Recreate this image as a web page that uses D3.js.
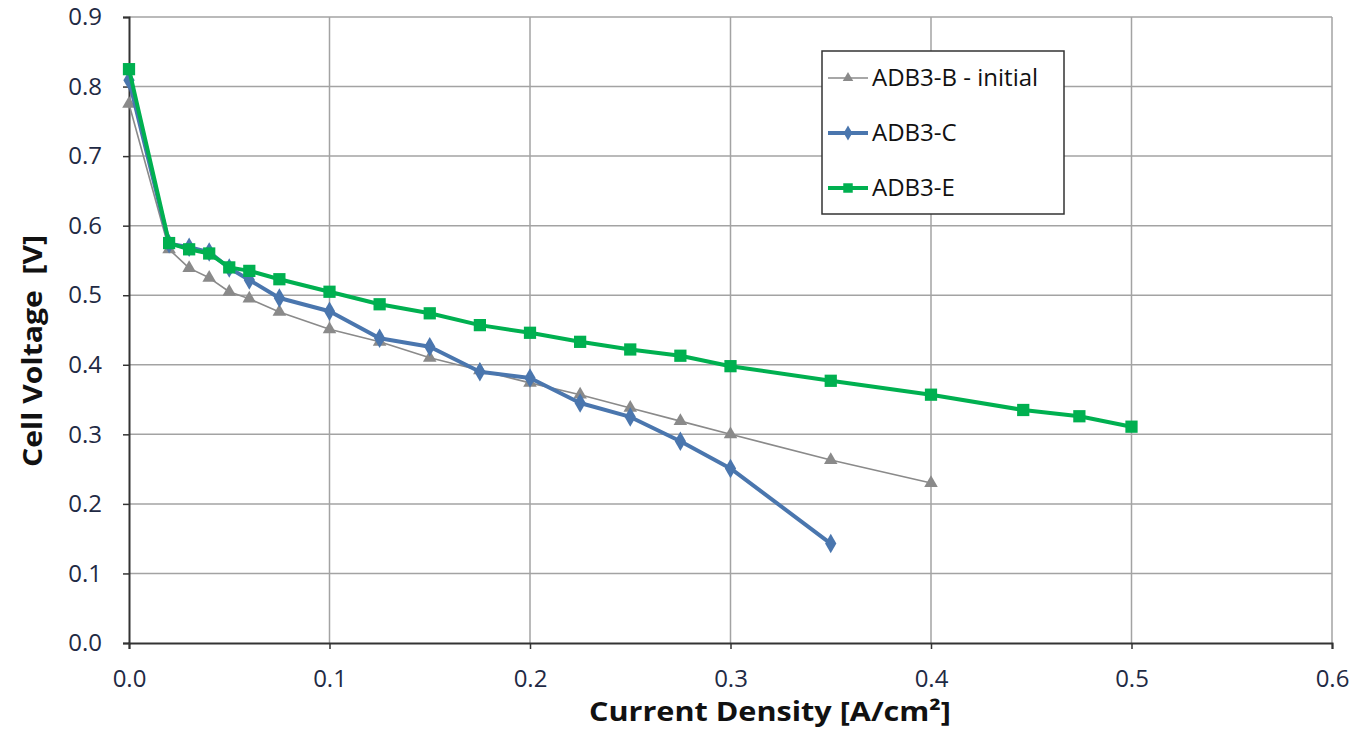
<!DOCTYPE html>
<head>
  <meta charset="utf-8">
  <title>Cell voltage vs current density</title>
  <script src="https://d3js.org/d3.v7.min.js"></script>
  <style>
    body { margin: 0; background: #fff; }
    .grid-line { stroke: #a3a3a3; stroke-width: 1.5; }
    .y-axis text, .x-axis text { font-family: 'Open Sans', sans-serif; font-size: 24px; fill: #1f2a44; }
    .axis-title { font-family: 'Open Sans', sans-serif; font-weight: 700; font-size: 26px; fill: #111; }
    .legend text { font-family: 'Open Sans', sans-serif; font-size: 24px; fill: #111; }
  </style>
</head>
<body>
<script>
// current density values [A/cm2] and cell voltage [V]
var xB = [0, 0.02, 0.03, 0.04, 0.05, 0.06, 0.075, 0.1, 0.125, 0.15, 0.175, 0.2, 0.225, 0.25, 0.275, 0.3, 0.35, 0.4];
var yB = [0.775, 0.566, 0.539, 0.525, 0.505, 0.495, 0.476, 0.451, 0.433, 0.41, 0.392, 0.374, 0.357, 0.338, 0.319, 0.300, 0.263, 0.230];

var xC = [0, 0.02, 0.03, 0.04, 0.05, 0.06, 0.075, 0.1, 0.125, 0.15, 0.175, 0.2, 0.225, 0.25, 0.275, 0.3, 0.35];
var yC = [0.809, 0.574, 0.569, 0.562, 0.539, 0.522, 0.496, 0.477, 0.438, 0.426, 0.390, 0.381, 0.345, 0.325, 0.290, 0.251, 0.143];

var xE = [0, 0.02, 0.03, 0.04, 0.05, 0.06, 0.075, 0.1, 0.125, 0.15, 0.175, 0.2, 0.225, 0.25, 0.275, 0.3, 0.35, 0.4, 0.446, 0.474, 0.5];
var yE = [0.825, 0.575, 0.566, 0.560, 0.540, 0.535, 0.523, 0.505, 0.487, 0.474, 0.457, 0.446, 0.433, 0.422, 0.413, 0.398, 0.377, 0.357, 0.335, 0.326, 0.311];

var seriesNames = ["ADB3-B - initial", "ADB3-C", "ADB3-E"];
var xTicks = [0, 0.1, 0.2, 0.3, 0.4, 0.5, 0.6];
var yTicks = [0, 0.1, 0.2, 0.3, 0.4, 0.5, 0.6, 0.7, 0.8, 0.9];

var W = 1354, H = 731;
var margin = {top: 17, right: 22, bottom: 88, left: 129};
var width = W - margin.left - margin.right,
    height = H - margin.top - margin.bottom;

var svg = d3.select("body").append("svg")
    .attr("width", W)
    .attr("height", H);
var g = svg.append("g")
    .attr("transform", "translate(" + margin.left + "," + margin.top + ")");

var x = d3.scaleLinear().domain([0, 0.6]).range([0, width]);
var y = d3.scaleLinear().domain([0, 0.9]).range([height, 0]);

var series = [
  {name: seriesNames[0], xs: xB, ys: yB, color: "#8a8a8a", width: 1.6, symbol: d3.symbolTriangle, size: 80},
  {name: seriesNames[1], xs: xC, ys: yC, color: "#4a76ae", width: 4, symbol: d3.symbolDiamond, size: 110},
  {name: seriesNames[2], xs: xE, ys: yE, color: "#00b050", width: 4, symbol: d3.symbolSquare, size: 150}
];
series.forEach(s => { s.pts = s.xs.map((v, i) => ({x: v, y: s.ys[i]})); });

// grid
g.append("g").selectAll("line")
  .data(yTicks.slice(1))
  .enter().append("line")
    .attr("class", "grid-line")
    .attr("x1", 0).attr("x2", width)
    .attr("y1", d => y(d)).attr("y2", d => y(d));
g.append("g").selectAll("line")
  .data(xTicks.slice(1))
  .enter().append("line")
    .attr("class", "grid-line")
    .attr("x1", d => x(d)).attr("x2", d => x(d))
    .attr("y1", 0).attr("y2", height);

// axes
g.append("g")
  .attr("class", "y-axis")
  .call(d3.axisLeft(y).tickValues(yTicks).tickFormat(d3.format(".1f")).tickSize(6).tickPadding(21));
g.append("g")
  .attr("class", "x-axis")
  .attr("transform", "translate(0," + height + ")")
  .call(d3.axisBottom(x).tickValues(xTicks).tickFormat(d3.format(".1f")).tickSize(6).tickPadding(21));
g.selectAll(".domain").attr("stroke", "#333").attr("stroke-width", 2);
g.selectAll(".tick line").attr("stroke", "#333").attr("stroke-width", 1.5);

// titles
svg.append("text")
  .attr("class", "axis-title")
  .attr("text-anchor", "middle")
  .attr("transform", "translate(42,351) rotate(-90)")
  .attr("textLength", 232)
  .attr("lengthAdjust", "spacingAndGlyphs")
  .text("Cell Voltage\u00a0 [V]");
svg.append("text")
  .attr("class", "axis-title")
  .attr("text-anchor", "middle")
  .attr("x", 770)
  .attr("y", 721)
  .attr("textLength", 362)
  .attr("lengthAdjust", "spacingAndGlyphs")
  .text("Current Density [A/cm²]");

// lines and markers
var line = d3.line().x(d => x(d.x)).y(d => y(d.y));
series.forEach(s => {
  g.append("path")
    .datum(s.pts)
    .attr("fill", "none")
    .attr("stroke", s.color)
    .attr("stroke-width", s.width)
    .attr("stroke-linejoin", "round")
    .attr("d", line);
  g.append("g").selectAll("path")
    .data(s.pts)
    .enter().append("path")
      .attr("transform", d => "translate(" + x(d.x) + "," + y(d.y) + ")")
      .attr("d", d3.symbol().type(s.symbol).size(s.size))
      .attr("fill", s.color);
});

// legend
var legend = svg.append("g").attr("class", "legend")
  .attr("transform", "translate(822,51)");
legend.append("rect")
  .attr("width", 242).attr("height", 163)
  .attr("fill", "#fff").attr("stroke", "#333").attr("stroke-width", 1.5);
series.forEach((s, i) => {
  var ly = 27 + i * 55;
  legend.append("line")
    .attr("x1", 6).attr("x2", 46).attr("y1", ly).attr("y2", ly)
    .attr("stroke", s.color).attr("stroke-width", s.width);
  legend.append("path")
    .attr("transform", "translate(26," + ly + ")")
    .attr("d", d3.symbol().type(s.symbol).size(s.size * 0.6))
    .attr("fill", s.color);
  legend.append("text")
    .attr("x", 50).attr("y", ly + 8)
    .text(s.name);
});
</script>
</body>
